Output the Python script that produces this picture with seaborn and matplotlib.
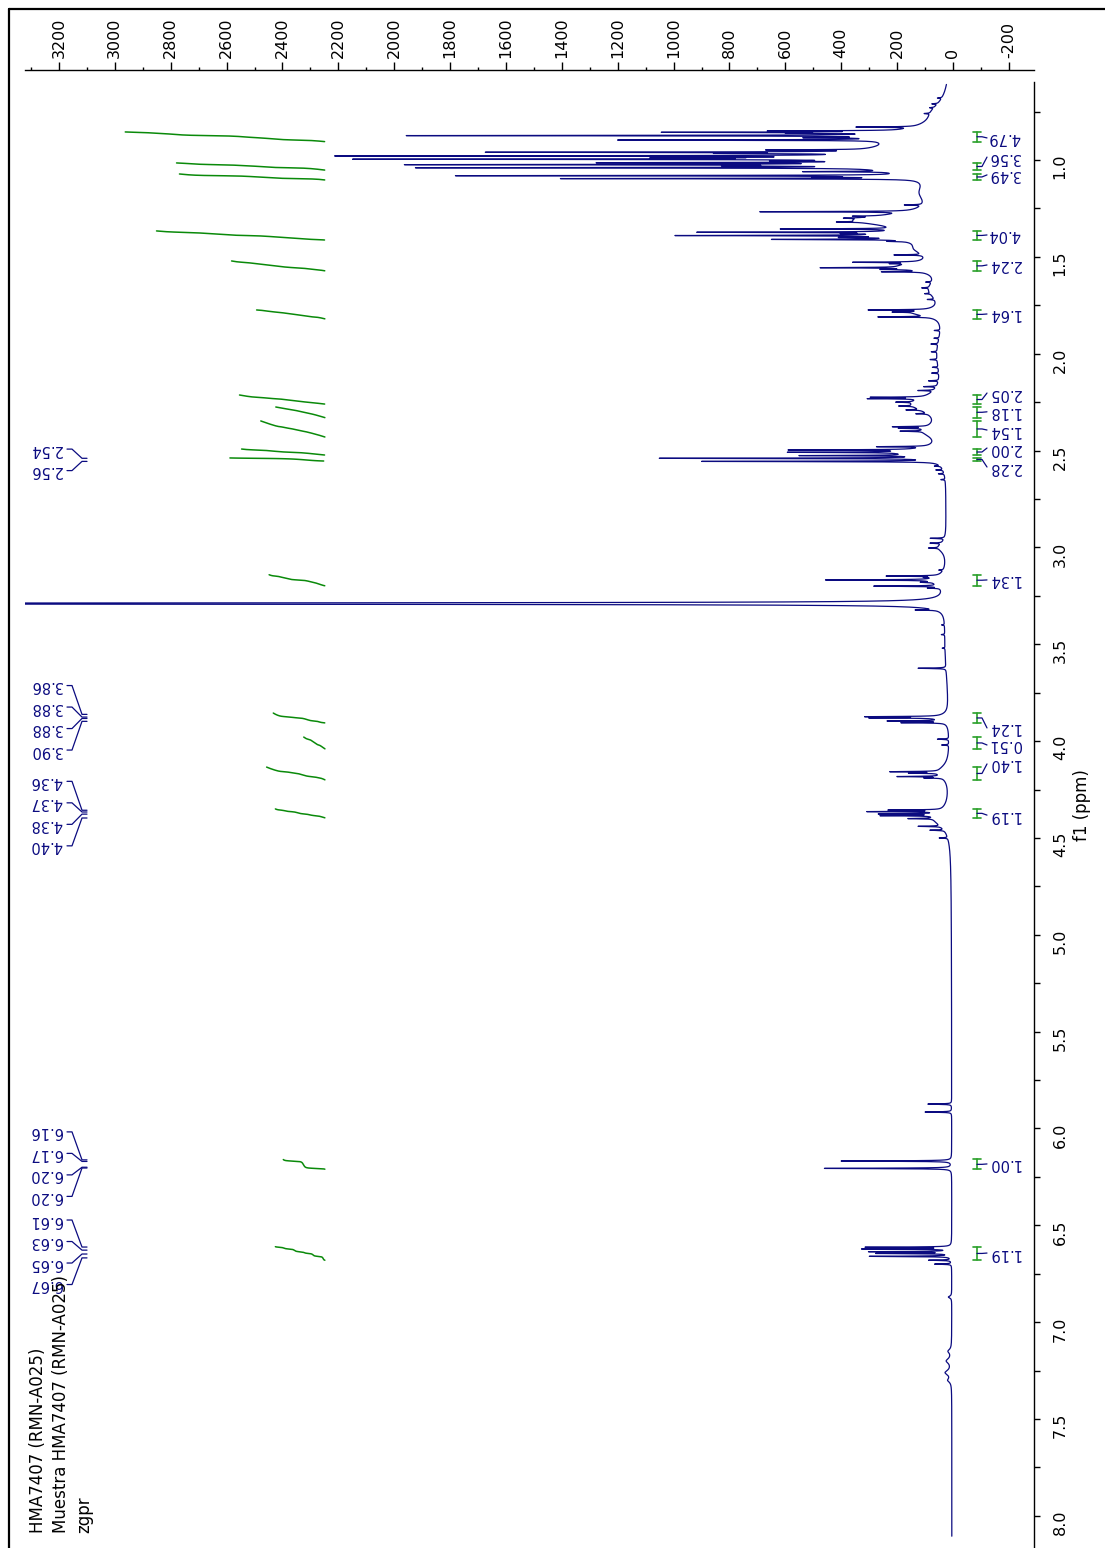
import numpy as np
import pandas as pd
import matplotlib
matplotlib.use("Agg")
import matplotlib.pyplot as plt
from matplotlib.lines import Line2D
from matplotlib.ticker import MultipleLocator, FixedLocator
import seaborn as sns

# ------------------------------------------------------------------ data
# sharp resonances (ppm, height in a.u.)
peak_ppm = [0.680, 0.710, 0.730, 0.760,
            0.830, 0.850, 0.857, 0.862, 0.874, 0.885, 0.897,
            0.948, 0.960, 0.966, 0.979, 0.986, 0.990, 0.996, 1.005, 1.014,
            1.024, 1.030, 1.040, 1.060, 1.081, 1.088, 1.096,
            1.232, 1.267, 1.290, 1.300, 1.320, 1.356, 1.373, 1.380, 1.390,
            1.400, 1.410, 1.420,
            1.490, 1.528, 1.535, 1.556, 1.565, 1.577,
            1.630, 1.660, 1.690, 1.720,
            1.774, 1.785, 1.810,
            1.880, 1.920, 1.950, 1.990, 2.030, 2.070, 2.100, 2.140, 2.170, 2.190,
            2.225, 2.232, 2.250, 2.270, 2.290, 2.310, 2.377, 2.385, 2.400,
            2.480, 2.497, 2.509, 2.526, 2.540, 2.556, 2.580, 2.600, 2.620, 2.650,
            2.953, 2.978, 3.003, 3.117, 3.148, 3.155, 3.168, 3.180, 3.200, 3.210,
            3.290,
            3.323, 3.400, 3.450, 3.520, 3.624, 3.874, 3.880, 3.896, 3.905, 3.990, 4.020,
            4.158, 4.165, 4.183, 4.190, 4.356, 4.364, 4.376, 4.385, 4.400,
            4.440, 4.460, 4.500,
            5.874, 5.915, 6.168, 6.206, 6.613, 6.622, 6.636, 6.645, 6.660,
            6.680, 6.700]
peak_height = [15, 20, 15, 20,
               200, 430, 780, 280, 1690, 230, 930,
               330, 1300, 420, 1850, 330, 600, 1780, 260, 900,
               1580, 370, 1600, 300, 1600, 250, 1250,
               60, 520, 80, 60, 80, 400, 680, 120, 740,
               160, 450, 60,
               100, 220, 60, 290, 100, 140,
               20, 25, 20, 25,
               200, 80, 180,
               20, 18, 25, 20, 25, 20, 25, 35, 45, 55,
               180, 180, 60, 50, 50, 40, 120, 90, 80,
               170, 430, 400, 400, 950, 830, 20, 25, 20, 15,
               50, 40, 35, 15, 180, 30, 380, 40, 230, 40,
               9000,
               70, 10, 12, 10, 100, 250, 230, 190, 150, 40, 25,
               170, 100, 155, 60, 180, 250, 200, 190, 90,
               80, 50, 30,
               85, 95, 395, 455, 300, 310, 285, 260, 290,
               80, 60]

# broad envelope under the multiplets (ppm, height, half width)
broad_ppm = [0.75, 0.88, 0.96, 1.03, 1.17, 1.31, 1.39, 1.46, 1.55, 1.67, 1.79,
             2.00, 2.26, 2.40, 2.51, 2.80, 3.00, 3.17, 3.50, 3.88, 4.16, 4.40,
             6.87, 7.15, 7.20, 7.26, 7.30]
broad_height = [35, 180, 200, 220, 60, 300, 150, 70, 140, 55, 100,
                40, 120, 70, 150, 12, 30, 50, 20, 40, 40, 60,
                12, 12, 18, 22, 12]
broad_width = [0.06, 0.05, 0.04, 0.04, 0.06, 0.035, 0.03, 0.04, 0.025, 0.06, 0.02,
               0.15, 0.05, 0.04, 0.025, 0.3, 0.03, 0.03, 0.3, 0.02, 0.04, 0.05,
               0.006, 0.012, 0.015, 0.015, 0.012]

# integrations: range (ppm), value, label position (ppm)
integral_start = [0.855, 1.015, 1.072, 1.366, 1.521, 1.774, 2.213, 2.275, 2.347,
                  2.492, 2.538, 3.141, 3.855, 3.979, 4.134, 4.350, 6.160, 6.610]
integral_end = [0.905, 1.052, 1.103, 1.413, 1.572, 1.820, 2.260, 2.330, 2.430,
                2.523, 2.554, 3.198, 3.906, 4.040, 4.200, 4.396, 6.210, 6.680]
integral_value = [4.79, 3.56, 3.49, 4.04, 2.24, 1.64, 2.05, 1.18, 1.54,
                  2.00, 2.28, 1.34, 1.24, 0.51, 1.40, 1.19, 1.00, 1.19]
integral_label_ppm = [0.886, 0.985, 1.077, 1.387, 1.542, 1.795, 2.203, 2.300, 2.394,
                      2.487, 2.585, 3.168, 3.932, 4.020, 4.118, 4.382, 6.183, 6.643]

# multiplet peak labels
multiplet_labels = [["2.54", "2.56"],
                    ["3.86", "3.88", "3.88", "3.90"],
                    ["4.36", "4.37", "4.38", "4.40"],
                    ["6.16", "6.17", "6.20", "6.20"],
                    ["6.61", "6.63", "6.65", "6.67"]]
multiplet_ppm = [[2.540, 2.556],
                 [3.862, 3.876, 3.883, 3.898],
                 [4.357, 4.366, 4.377, 4.397],
                 [6.162, 6.170, 6.200, 6.204],
                 [6.612, 6.628, 6.648, 6.668]]

x_ticks = list(range(-200, 3201, 200))
y_ticks = [1.0, 1.5, 2.0, 2.5, 3.0, 3.5, 4.0, 4.5, 5.0, 5.5, 6.0, 6.5, 7.0, 7.5, 8.0]
info_lines = ["HMA7407 (RMN-A025)", "Muestra HMA7407 (RMN-A025)", "zgpr"]
axis_label = "f1 (ppm)"

# ------------------------------------------------------------------ build spectrum
ppm = np.arange(0.61, 8.105, 0.0002)
w_sharp = 0.0015
inten = np.full_like(ppm, 4.0)
for p, h in zip(peak_ppm, peak_height):
    w = 0.0022 if h > 5000 else w_sharp
    inten += h * w ** 2 / ((ppm - p) ** 2 + w ** 2)
for p, h, w in zip(broad_ppm, broad_height, broad_width):
    inten += h * w ** 2 / ((ppm - p) ** 2 + w ** 2)
spec = pd.DataFrame({"ppm": ppm, "intensity": inten})

# ------------------------------------------------------------------ figure
W, H = 1105, 1548
NAVY = "#0b0b80"
GREEN = "#0a8a0a"
BRK = "#2aa02a"

sns.set_style("ticks")
plt.rcParams["font.family"] = ["DejaVu Sans"]
plt.rcParams["axes.unicode_minus"] = False
plt.rcParams["text.color"] = "black"

fig = plt.figure(figsize=(W / 100, H / 100), dpi=100)
ax_left, ax_right, ax_top = 25, 1034, 82.5
ax = fig.add_axes([ax_left / W, 0, (ax_right - ax_left) / W, 1 - ax_top / H])

PX0, PXS = 953.0, 0.2794        # intensity 0 at px 953, 0.2794 px per unit
def px2i(x):
    return (PX0 - x) / PXS
def py2ppm(y):
    return 1.0 + (y - 160.0) / 193.7

ax.set_xlim(px2i(ax_left), px2i(ax_right))
ax.set_ylim(py2ppm(H), py2ppm(ax_top))

sns.lineplot(data=spec, x="intensity", y="ppm", orient="y", sort=False,
             estimator=None, color=NAVY, lw=0.9, ax=ax)

# integral curves
base_i = px2i(325)
K = 41.7 / PXS
for a, b, v in zip(integral_start, integral_end, integral_value):
    m = (ppm >= a) & (ppm <= b)
    seg = inten[m]
    F = np.cumsum(seg[::-1])[::-1]
    F = F / F[0]
    df = pd.DataFrame({"x": base_i + v * K * F, "y": ppm[m]})
    sns.lineplot(data=df, x="x", y="y", orient="y", sort=False, estimator=None,
                 color=GREEN, lw=1.1, ax=ax)

# integral brackets + labels
xc1, xc2, xv = px2i(973), px2i(981), px2i(977)
for a, b, v, lp in zip(integral_start, integral_end, integral_value, integral_label_ppm):
    ax.plot([xv, xv], [a, b], color=BRK, lw=1.2)
    ax.plot([xc1, xc2], [a, a], color=BRK, lw=1.2)
    ax.plot([xc1, xc2], [b, b], color=BRK, lw=1.2)
    mid = 0.5 * (a + b)
    ax.plot([xv, px2i(982), px2i(987)], [mid, mid, lp], color=NAVY, lw=0.9)
    ax.text(px2i(988), lp, f"{v:.2f}", rotation=180, ha="left", va="center",
            color=NAVY, fontsize=10.5)

# multiplet labels (left)
spacing = 21.5 / 193.7
for labs, pks in zip(multiplet_labels, multiplet_ppm):
    n = len(labs)
    center = float(np.mean(pks))
    for k, (lab, pk) in enumerate(zip(labs, pks)):
        ly = center + (k - (n - 1) / 2) * spacing
        ax.text(px2i(62), ly, lab, rotation=180, ha="right", va="center",
                color=NAVY, fontsize=10.5)
        ax.plot([px2i(67), px2i(72), px2i(82), px2i(87)], [ly, ly, pk, pk],
                color=NAVY, lw=0.9)

# axes styling
for s in ("left", "bottom"):
    ax.spines[s].set_visible(False)
ax.spines["top"].set_position(("outward", 9))
for s in ("top", "right"):
    ax.spines[s].set_linewidth(1.0)
    ax.spines[s].set_color("black")
ax.xaxis.tick_top()
ax.yaxis.tick_right()
ax.xaxis.set_major_locator(FixedLocator(x_ticks))
ax.xaxis.set_minor_locator(MultipleLocator(100))
ax.yaxis.set_major_locator(FixedLocator(y_ticks))
ax.yaxis.set_minor_locator(MultipleLocator(0.25))
ax.set_xticklabels([str(t) for t in x_ticks])
ax.set_yticklabels([f"{t:.1f}" for t in y_ticks])
ax.tick_params(axis="x", which="major", direction="out", length=5.5, width=1,
               labelsize=11.5, labelrotation=90, pad=3, colors="black")
ax.tick_params(axis="x", which="minor", direction="out", length=2.5, width=1,
               colors="black")
ax.tick_params(axis="y", which="both", direction="out", length=4.5, width=1,
               labelsize=11.5, labelrotation=90, pad=9, colors="black")
ax.set_xlabel("")
ax.set_ylabel("")
ax.grid(False)

fig.text(1082 / W, 1 - 805 / H, axis_label, rotation=90, ha="center", va="center",
         fontsize=12, color="black")
fig.text(29 / W, 1 - 1533 / H, "\n".join(info_lines), rotation=90, ha="left",
         va="bottom", fontsize=12, linespacing=1.38, color="black")

# outer frame
fig.add_artist(Line2D([9 / W, 9 / W], [0, 1 - 9 / H], transform=fig.transFigure,
                      color="black", lw=1.6))
fig.add_artist(Line2D([9 / W, 1], [1 - 9 / H, 1 - 9 / H], transform=fig.transFigure,
                      color="black", lw=1.6))

fig.savefig("out.png", dpi=100)
